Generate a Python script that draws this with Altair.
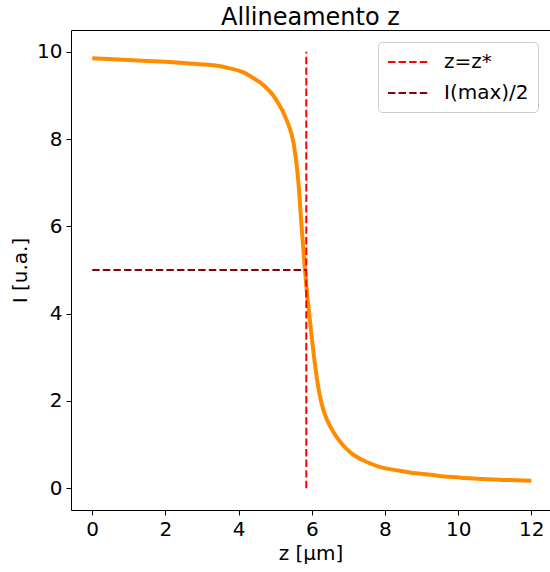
import altair as alt
import pandas as pd

# curve
z_vals = [0, 1, 1.5, 2, 2.85, 3.5, 3.76, 4.1, 4.4, 4.7, 4.94, 5.1, 5.2, 5.31, 5.38, 5.45,
          5.5, 5.55, 5.6, 5.65, 5.72, 5.81, 5.86, 5.93, 6.0, 6.07, 6.13, 6.19, 6.26, 6.35,
          6.5, 6.67, 6.85, 7.04, 7.22, 7.5, 7.85, 8.4, 8.85, 9.3, 9.76, 10.2, 10.67, 11.3, 12]
i_vals = [9.85, 9.81, 9.79, 9.77, 9.72, 9.67, 9.62, 9.54, 9.40, 9.22, 9.01, 8.8, 8.65,
          8.44, 8.29, 8.1, 7.92, 7.65, 7.3, 6.85, 6.0, 5.04, 4.55, 4.0, 3.45, 2.95, 2.57,
          2.25, 1.97, 1.71, 1.42, 1.18, 0.99, 0.83, 0.72, 0.6, 0.49, 0.40, 0.34, 0.30,
          0.26, 0.235, 0.21, 0.19, 0.17]

z_star = 5.85
i_half = 5.0
i_top = 10.0
i_bottom = 0.0
z_start = 0.0

series_names = ["z=z*", "I(max)/2"]
series_colors = ["red", "darkred"]

curve = pd.DataFrame({"z": z_vals, "I": i_vals})
guides = pd.DataFrame({
    "z": [z_star, z_star, z_start, z_star],
    "I": [i_bottom, i_top, i_half, i_half],
    "serie": [series_names[0], series_names[0], series_names[1], series_names[1]],
    "k": [0, 1, 0, 1],
})

FONT = "DejaVu Sans"
xs = alt.Scale(domain=[-0.58, 12.51], nice=False, zero=False)
ys = alt.Scale(domain=[-0.5, 10.5], nice=False, zero=False)

xaxis = alt.Axis(values=[0, 2, 4, 6, 8, 10, 12], grid=False, title="z [µm]", format="d")
yaxis = alt.Axis(values=[0, 2, 4, 6, 8, 10], grid=False, title="I [u.a.]", format="d")
top_axis = alt.Axis(orient="top", labels=False, ticks=False, grid=False, title=None, domain=True)

line = alt.Chart(curve).mark_line(color="darkorange", strokeWidth=4, interpolate="monotone").encode(
    x=alt.X("z:Q", scale=xs, axis=xaxis),
    y=alt.Y("I:Q", scale=ys, axis=yaxis),
)

dash = alt.Chart(guides).mark_line(strokeWidth=2).encode(
    x=alt.X("z:Q", scale=xs, axis=top_axis),
    y=alt.Y("I:Q", scale=ys),
    color=alt.Color("serie:N", scale=alt.Scale(domain=series_names, range=series_colors),
                    legend=alt.Legend(title=None, orient="none", legendX=307, legendY=12,
                                      symbolType="M-1,0H3", symbolSize=400, symbolStrokeWidth=2,
                                      symbolDash=[5, 2.5],
                                      labelFontSize=20, labelFont=FONT, labelColor="black",
                                      fillColor="white", strokeColor="#cccccc", cornerRadius=4,
                                      padding=9, rowPadding=10, labelOffset=35)),
    strokeDash=alt.StrokeDash("serie:N", scale=alt.Scale(domain=series_names, range=[[7.4, 3.2], [7.4, 3.2]]),
                              legend=None),
    order="k:Q",
)

chart = alt.layer(line, dash).resolve_axis(x="independent").properties(
    width=479, height=480,
    title=alt.TitleParams("Allineamento z", fontSize=24, font=FONT, fontWeight="normal", color="black",
                          offset=0),
    autosize=alt.AutoSizeParams(type="none"),
    padding={"left": 71, "top": 30, "right": 0, "bottom": 62},
).configure_view(stroke=None).configure_axis(
    labelFont=FONT, titleFont=FONT, labelFontSize=20, titleFontSize=20,
    labelColor="black", titleColor="black", titleFontWeight="normal",
    tickColor="black", domainColor="black", tickSize=5, labelPadding=4,
    domainWidth=1, tickWidth=1,
).configure_axisX(titlePadding=4).configure_axisY(titlePadding=6)

chart.save("out.html", embed_options={"renderer": "svg", "actions": False})
